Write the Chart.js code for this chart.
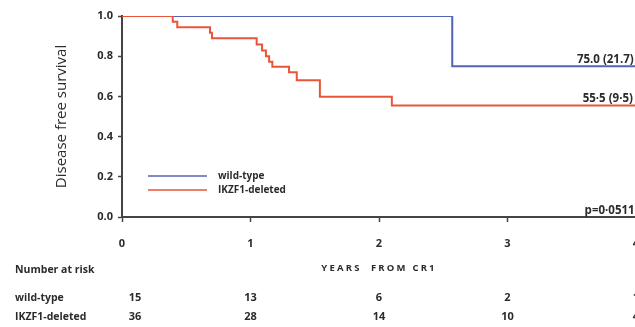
<!DOCTYPE html>
<html>
<head>
<meta charset="utf-8">
<script src="https://cdn.jsdelivr.net/npm/chart.js@4"></script>
<style>
  html, body { margin: 0; padding: 0; background: #fff; overflow: hidden; }
  #wrap { width: 660px; height: 327px; }
</style>
</head>
<body>
<div id="wrap"><canvas id="km" width="660" height="327"></canvas></div>
<script>
// Kaplan-Meier curves (years, survival)
const wildTimes = [0, 2.57, 4];
const wildSurv = [1, 0.75, 0.75];
const delTimes = [0, 0.395, 0.43, 0.685, 0.70, 1.048, 1.09, 1.12, 1.145, 1.17, 1.30, 1.36, 1.54, 2.10, 4];
const delSurv = [1, 0.972, 0.944, 0.917, 0.889, 0.858, 0.828, 0.80, 0.772, 0.747, 0.72, 0.68, 0.598, 0.555, 0.555];

const groups = ['wild-type', 'IKZF1-deleted'];
const groupColors = ['#5563b4', '#e8553b'];
const endLabels = ['75.0 (21.7)', '55·5 (9·5)'];
const endLabelX = [3.54, 3.585];
const pValue = 'p=0·0511';

const riskTimes = [0, 1, 2, 3, 4];
const riskWild = [15, 13, 6, 2, 1];
const riskDel = [36, 28, 14, 10, 4];

const FONT = "'Open Sans', 'DejaVu Sans', sans-serif";
const INK = '#2b2b2b';
Chart.defaults.font.family = FONT;
Chart.defaults.color = INK;

const toPoints = (xs, ys) => xs.map((t, i) => ({ x: t, y: ys[i] }));

// texts the library has no slot for: end values, p value, legend, risk table
const extras = {
  id: 'extras',
  afterDraw(chart) {
    const { ctx, chartArea: area, scales: { x, y } } = chart;
    ctx.save();
    ctx.fillStyle = INK;
    ctx.font = `bold 11.5px ${FONT}`;
    ctx.textAlign = 'left';
    ctx.textBaseline = 'alphabetic';
    ctx.fillText(endLabels[0], x.getPixelForValue(endLabelX[0]), y.getPixelForValue(wildSurv[wildSurv.length - 1]) - 3);
    ctx.fillText(endLabels[1], x.getPixelForValue(endLabelX[1]), y.getPixelForValue(delSurv[delSurv.length - 1]) - 3);
    ctx.fillText(pValue, x.getPixelForValue(3.6), y.getPixelForValue(0) - 3);

    // legend
    ctx.textBaseline = 'middle';
    ctx.font = `bold 10px ${FONT}`;
    groups.forEach((g, i) => {
      const ly = area.bottom - 41 + i * 14;
      ctx.strokeStyle = groupColors[i];
      ctx.lineWidth = 1.5;
      ctx.beginPath();
      ctx.moveTo(area.left + 26, ly);
      ctx.lineTo(area.left + 85, ly);
      ctx.stroke();
      ctx.fillText(g, area.left + 96, ly);
    });

    // x axis title, spaced out
    ctx.font = `bold 9.5px ${FONT}`;
    ctx.letterSpacing = '2.2px';
    ctx.textAlign = 'center';
    ctx.fillText('YEARS  FROM CR1', (area.left + x.getPixelForValue(4)) / 2, 268);
    ctx.letterSpacing = '0px';

    // number at risk
    ctx.textAlign = 'left';
    ctx.font = `bold 10.5px ${FONT}`;
    ctx.fillText('Number at risk', 15, 270);
    ctx.fillText(groups[0], 15, 298);
    ctx.fillText(groups[1], 15, 317);
    ctx.textAlign = 'center';
    ctx.font = `bold 11px ${FONT}`;
    riskTimes.forEach((t, i) => {
      const px = x.getPixelForValue(t) + (i === 0 ? 13 : 0);
      ctx.fillText(String(riskWild[i]), px, 298);
      ctx.fillText(String(riskDel[i]), px, 317);
    });
    ctx.restore();
  }
};

new Chart(document.getElementById('km'), {
  type: 'line',
  data: {
    datasets: [
      { label: groups[0], data: toPoints(wildTimes, wildSurv), borderColor: groupColors[0], order: 1 },
      { label: groups[1], data: toPoints(delTimes, delSurv), borderColor: groupColors[1], order: 0 }
    ]
  },
  options: {
    responsive: false,
    animation: false,
    devicePixelRatio: 1,
    layout: { padding: { top: 16, right: 24, left: 0, bottom: 0 } },
    elements: {
      line: { borderWidth: 2, stepped: true, fill: false, tension: 0 },
      point: { radius: 0 }
    },
    plugins: { legend: { display: false }, tooltip: { enabled: false } },
    scales: {
      x: {
        type: 'linear',
        min: 0,
        max: 4,
        ticks: { stepSize: 1, padding: 15, color: INK, font: { size: 11, weight: 'bold' } },
        grid: { drawOnChartArea: false, drawTicks: true, tickLength: 5, tickWidth: 1.5, color: '#444' },
        border: { display: true, color: '#444', width: 2 },
        afterFit: s => { s.height = 110; }
      },
      y: {
        min: 0,
        max: 1,
        ticks: { stepSize: 0.2, padding: 5, color: INK, font: { size: 11, weight: 'bold' }, callback: v => v.toFixed(1) },
        grid: { drawOnChartArea: false, drawTicks: true, tickLength: 4, tickWidth: 1.5, color: '#444' },
        border: { display: true, color: '#444', width: 2 },
        title: { display: true, text: 'Disease free survival', color: INK, font: { size: 15 }, padding: { top: 53, bottom: 0 } },
        afterFit: s => { s.width = 122; }
      }
    }
  },
  plugins: [extras]
});
</script>
</body>
</html>
